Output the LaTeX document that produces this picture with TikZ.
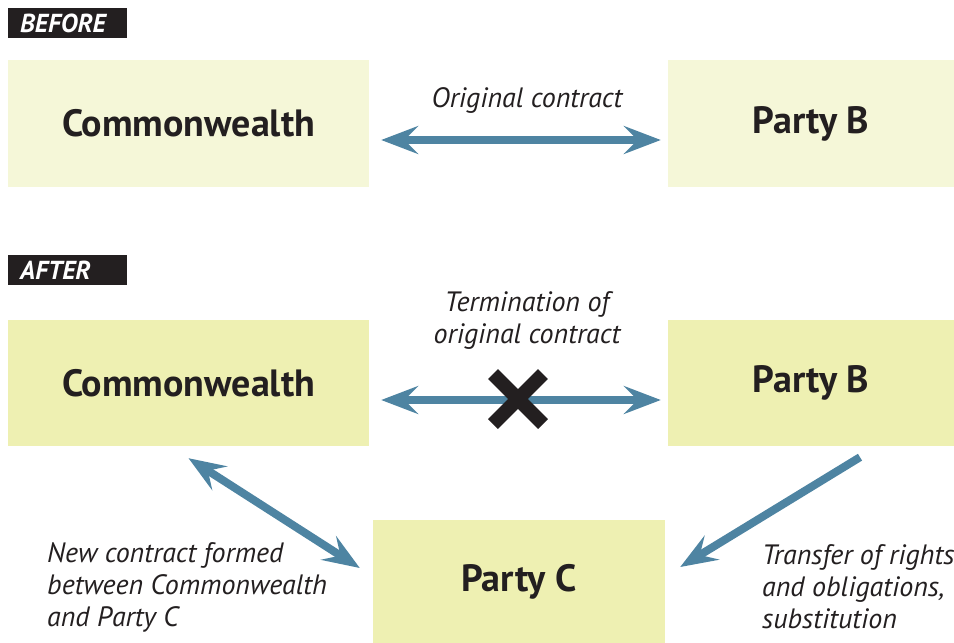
\documentclass[tikz,border=0pt]{standalone}
\usepackage{fontspec}
\setmainfont{PT Sans}
\usetikzlibrary{arrows.meta}
\definecolor{palebox}{RGB}{245,247,216}
\definecolor{limebox}{RGB}{238,240,178}
\definecolor{linkblue}{RGB}{78,132,162}
\definecolor{inkblack}{RGB}{35,31,32}
\begin{document}
\begin{tikzpicture}[x=1pt,y=-1pt,
  tag/.style={fill=inkblack,text=white,anchor=north west,inner xsep=12pt,inner ysep=0pt,
    text width=95pt,minimum height=30pt,align=left,font=\bfseries\itshape\fontsize{26}{28}\selectfont},
  party/.style={inner sep=0pt,text=inkblack,font=\bfseries\fontsize{38}{40}\selectfont},
  note/.style={text=inkblack,inner sep=0pt,font=\itshape\fontsize{28}{32}\selectfont},
  link/.style={draw=linkblue,line width=8pt,
    {Stealth[length=37pt,width=28pt,inset=14pt]}-{Stealth[length=37pt,width=28pt,inset=14pt]}},
  onelink/.style={draw=linkblue,line width=8pt,-{Stealth[length=37pt,width=28pt,inset=14pt]}},
  cross/.style={draw=inkblack,line width=14pt}]
\useasboundingbox (0,0) rectangle (954,643);

% before
\node[tag] (before) at (8,8) {BEFORE};
\node[party,fill=palebox,minimum width=361pt,minimum height=127pt] (cw1) at (188.5,123.5) {Commonwealth};
\node[party,fill=palebox,minimum width=286pt,minimum height=127pt] (pb1) at (811,123.5) {Party B};
\draw[link] ([xshift=12pt,yshift=-16.5pt]cw1.east) -- ([xshift=-7pt,yshift=-16.5pt]pb1.west);
\node[note] (orig) at (527,100) {Original contract};

% after
\node[tag] (after) at (8,255) {AFTER};
\node[party,fill=limebox,minimum width=361pt,minimum height=126pt] (cw2) at (188.5,383) {Commonwealth};
\node[party,fill=limebox,minimum width=286pt,minimum height=126pt] (pb2) at (811,383) {Party B};
\node[party,fill=limebox,minimum width=292pt,minimum height=123pt] (pc) at (519,581.5) {Party C};
\draw[link] ([xshift=12pt,yshift=-17pt]cw2.east) -- ([xshift=-7pt,yshift=-17pt]pb2.west);
\node[note,align=center] (term) at (527,320) {Termination of\\original contract};
\coordinate (xmark) at (518,399);
\draw[cross] ([shift={(-25,-25)}]xmark) -- ([shift={(25,25)}]xmark);
\draw[cross] ([shift={(-25,25)}]xmark) -- ([shift={(25,-25)}]xmark);

\draw[link] ([yshift=-12pt]cw2.south) -- ([xshift=-13pt,yshift=13.5pt]pc.west);
\draw[onelink] ([xshift=49pt,yshift=-11pt]pb2.south) -- ([xshift=15pt,yshift=14.5pt]pc.east);
\node[note,align=left,anchor=west] (newc) at (47,587) {New contract formed\\between Commonwealth\\and Party C};
\node[note,align=left,anchor=west] (xfer) at (762,587) {Transfer of rights\\and obligations,\\substitution};
\end{tikzpicture}
\end{document}
